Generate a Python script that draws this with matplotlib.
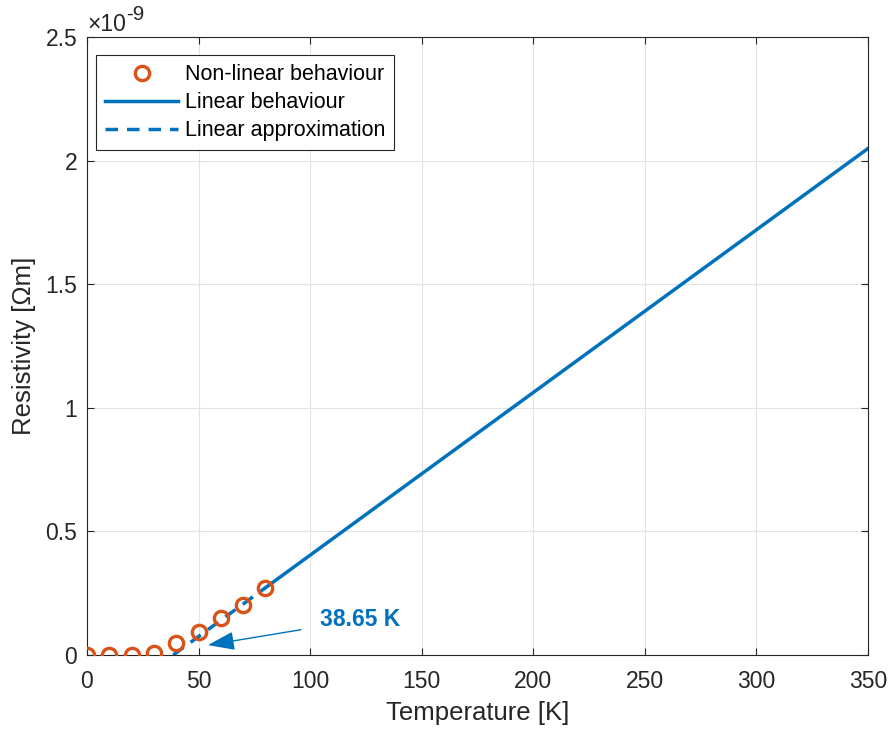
import matplotlib
matplotlib.use("Agg")
import matplotlib.pyplot as plt
from matplotlib.ticker import FuncFormatter, MultipleLocator

plt.rcParams['font.family'] = ['Liberation Sans', 'DejaVu Sans']

# measured points below the linear range
temp_nl = [0, 10, 20, 30, 40, 50, 60, 70, 80]
rho_nl = [0.0, 0.0, 0.0, 0.009e-9, 0.05e-9, 0.094e-9, 0.151e-9, 0.202e-9, 0.272e-9]

# linear fit: rho = slope * (T - T0)
T0 = 38.65
slope = 0.006584e-9
temp_lin = [80, 350]
temp_approx = [T0, 80]

blue = "#0072BD"
orange = "#D95319"
dark = "#262626"
tick_fs = 16.5
label_fs = 18.5
legend_fs = 15.5

fig = plt.figure(figsize=(8.93, 7.31), dpi=100)
ax = fig.add_axes([0.0974, 0.104, 0.8746, 0.845])

ax.plot(temp_nl, rho_nl, 'o', mfc='none', mec=orange, mew=2.4, ms=10.3,
        label="Non-linear behaviour", zorder=3)
ax.plot(temp_lin, [slope * (t - T0) for t in temp_lin], color=blue, lw=2.5,
        label="Linear behaviour")
ax.plot(temp_approx, [slope * (t - T0) for t in temp_approx], color=blue,
        lw=2.5, ls=(0, (3.6, 2.6)), label="Linear approximation")

ax.annotate("38.65 K", xy=(54.2, 0.04e-9), xytext=(104.5, 0.142e-9),
            color=blue, fontsize=tick_fs, fontweight='bold', va='center',
            arrowprops=dict(arrowstyle='-|>,head_length=1.0,head_width=0.35',
                            color=blue, lw=1, shrinkA=12, shrinkB=0))

ax.set_xlim(0, 350)
ax.set_ylim(0, 2.5e-9)
ax.xaxis.set_major_locator(MultipleLocator(50))
ax.yaxis.set_major_locator(MultipleLocator(0.5e-9))
ax.yaxis.set_major_formatter(FuncFormatter(lambda v, p: "%g" % round(v * 1e9, 3)))

# exponent label above the y axis, plain hyphen in the power
mult = ax.text(0.0, 1.0097, "\u00d710", transform=ax.transAxes,
               fontsize=tick_fs, va='baseline', ha='left', color=dark)
ax.annotate("-9", xy=(1, 1), xycoords=mult, xytext=(0.5, -4.5),
            textcoords='offset points', fontsize=tick_fs * 0.9,
            va='baseline', ha='left', color=dark)

ax.grid(True, color="#e3e3e3", lw=0.8)
ax.set_axisbelow(True)
ax.tick_params(direction='in', labelsize=tick_fs, top=True, right=True,
               colors=dark, length=5)
ax.tick_params(axis='x', pad=10.5)
ax.tick_params(axis='y', pad=7)
for s in ax.spines.values():
    s.set_color(dark)
    s.set_linewidth(0.8)

ax.set_xlabel("Temperature [K]", fontsize=label_fs, color=dark, labelpad=6)
ax.set_ylabel("Resistivity [Ωm]", fontsize=label_fs, color=dark, labelpad=7)

leg = ax.legend(loc='upper left', bbox_to_anchor=(0.0115, 0.971),
                borderaxespad=0, fontsize=legend_fs, fancybox=False,
                edgecolor=dark, framealpha=1, handlelength=3.4,
                handletextpad=0.3, labelspacing=0.33, borderpad=0.42)
leg.get_frame().set_linewidth(0.8)

fig.savefig("out.png", dpi=100)
